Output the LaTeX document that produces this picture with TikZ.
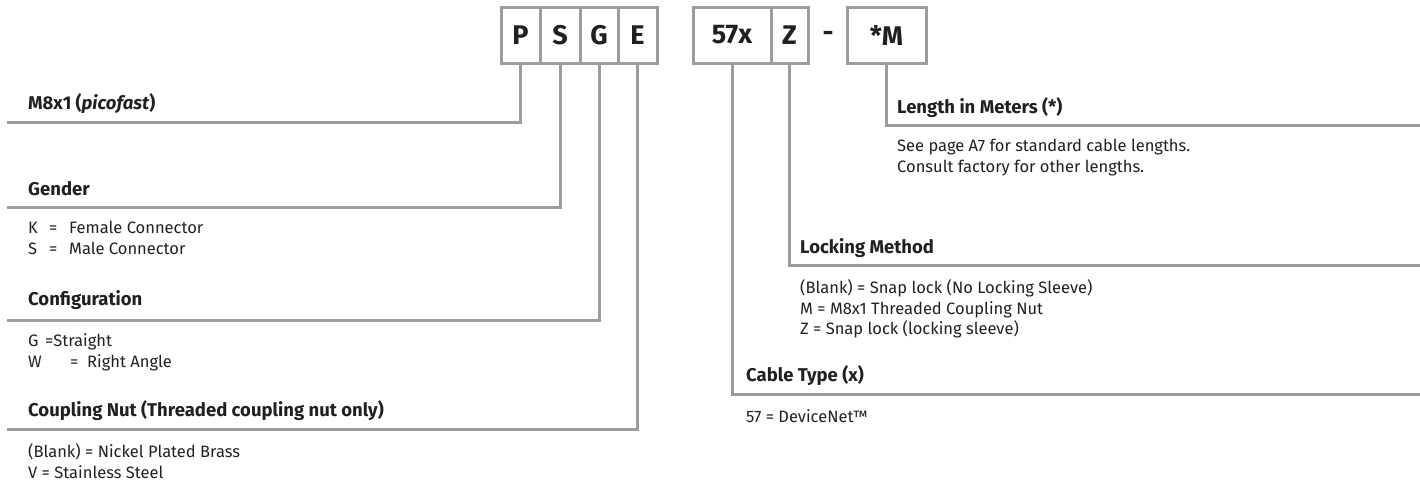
\documentclass[tikz,border=0pt]{standalone}
\usepackage{fontspec}
\setmainfont{Fira Sans}
\definecolor{linegray}{HTML}{9C9C9C}
\definecolor{ink}{HTML}{231F20}
\tikzset{
  x=1pt, y=-1pt,
  code/.style={draw=linegray, line width=3pt, minimum height=56pt, inner sep=0pt,
    font=\bfseries\fontsize{27}{27}\selectfont, text=ink},
  lead/.style={draw=linegray, line width=3pt},
  head/.style={anchor=base west, inner sep=0pt, font=\bfseries\fontsize{18.5}{22}\selectfont, text=ink},
  body/.style={anchor=base west, inner sep=0pt, font=\fontsize{16.5}{21}\selectfont, text=ink},
}
\begin{document}
\begin{tikzpicture}
\useasboundingbox (0,0) rectangle (1420,485);
% code boxes
\node[code, minimum width=39pt] (P) at (520.5,35) {P};
\node[code, minimum width=40pt] (S) at (560,35) {S};
\node[code, minimum width=38pt] (G) at (599,35) {G};
\node[code, minimum width=39pt] (E) at (637.5,35) {E};
\node[code, minimum width=78pt] (X) at (732,35) {57x};
\node[code, minimum width=37pt] (Z) at (789.5,35) {Z};
\node[inner sep=0pt, font=\bfseries\fontsize{27}{27}\selectfont, text=ink] (dash) at (828,36) {-};
\node[code, minimum width=79pt] (M) at (886.5,35) {*M};
% line end coordinates
\coordinate (lP) at (7,122);
\coordinate (lS) at (7,207);
\coordinate (lG) at (7,320);
\coordinate (lE) at (7,429);
\coordinate (rM) at (1420,125);
\coordinate (rZ) at (1420,265);
\coordinate (rX) at (1420,394);
% leaders
\draw[lead] (P.south) |- (lP);
\draw[lead] (S.south) |- (lS);
\draw[lead] (G.south) |- (lG);
\draw[lead] (E.south) |- (lE);
\draw[lead] (M.south) |- (rM);
\draw[lead] (Z.south) |- (rZ);
\draw[lead] (X.south) |- (rX);
% left texts
\node[head] (hP) at (28,109) {M8x1 (\textit{picofast})};
\node[head] (hS) at (28,195) {Gender};
\node[body] (tS1) at (28,233) {\makebox[21pt][l]{K}\makebox[20pt][l]{=}Female Connector};
\node[body] (tS2) at (28,254) {\makebox[21pt][l]{S}\makebox[20pt][l]{=}Male Connector};
\node[head] (hG) at (28,305) {Configuration};
\node[body] (tG1) at (28,346) {\makebox[17pt][l]{G}=Straight};
\node[body] (tG2) at (28,367) {\makebox[42pt][l]{W}\makebox[17pt][l]{=}Right Angle};
\node[head] (hE) at (28,416) {Coupling Nut (Threaded coupling nut only)};
\node[body] (tE1) at (28,457) {(Blank) = Nickel Plated Brass};
\node[body] (tE2) at (28,478) {V = Stainless Steel};
% right texts
\node[head] (hM) at (897,113) {Length in Meters (*)};
\node[body] (tM1) at (897,151) {See page A7 for standard cable lengths.};
\node[body] (tM2) at (897,172) {Consult factory for other lengths.};
\node[head] (hZ) at (800,253) {Locking Method};
\node[body] (tZ1) at (800,293) {(Blank) = Snap lock (No Locking Sleeve)};
\node[body] (tZ2) at (800,314) {M = M8x1 Threaded Coupling Nut};
\node[body] (tZ3) at (800,334) {Z = Snap lock (locking sleeve)};
\node[head] (hX) at (746,381) {Cable Type (x)};
\node[body] (tX1) at (746,422) {57 = DeviceNet™};
\end{tikzpicture}
\end{document}
